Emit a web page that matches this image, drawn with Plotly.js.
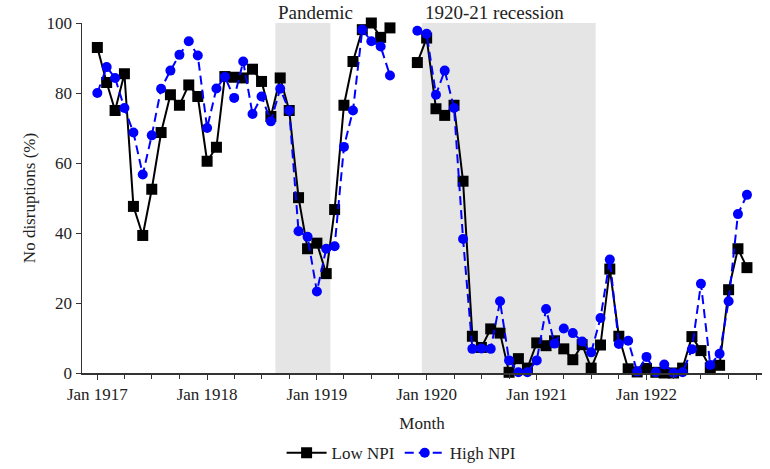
<!DOCTYPE html>
<html>
<head>
<meta charset="utf-8">
<script src="https://cdn.plot.ly/plotly-3.0.1.min.js"></script>
<style>
  html, body { margin: 0; padding: 0; background: #fff; }
  #chart { width: 770px; height: 469px; }
</style>
</head>
<body>
<div id="chart"></div>
<script>
// Monthly observations Jan 1917 .. Dec 1922
const years = [1917, 1918, 1919, 1920, 1921, 1922];
const monthNums = ['01','02','03','04','05','06','07','08','09','10','11','12'];
const months = [];
years.forEach(y => monthNums.forEach(m => months.push(y + '-' + m + '-01')));

const lowNPI = [
  93.0, 83.0, 75.0, 85.5, 47.6, 39.3, 52.5, 68.7, 79.5, 76.5, 82.3, 79.0,
  60.5, 64.5, 84.7, 84.5, 84.3, 86.8, 83.3, 73.3, 84.3, 75.0, 50.1, 35.5,
  37.1, 28.4, 46.7, 76.5, 89.0, 98.1, 100.0, 95.9, 98.6, null, null, 88.7,
  95.7, 75.5, 73.6, 76.5, 54.8, 10.5, 7.3, 12.6, 11.4, 0.2, 4.1, 1.4,
  8.6, 7.8, 9.2, 6.9, 3.8, 8.1, 1.4, 8.0, 29.7, 10.5, 1.2, 0.3,
  1.3, 0.2, 0.0, 0.0, 1.4, 10.4, 6.4, 1.5, 2.2, 23.8, 35.5, 30.1
];
const highNPI = [
  80.0, 87.4, 84.3, 75.7, 68.7, 56.7, 67.9, 81.2, 86.4, 90.9, 94.8, 90.7,
  70.0, 81.3, 84.6, 78.6, 89.0, 74.0, 79.0, 71.9, 81.2, 75.0, 40.5, 38.9,
  23.3, 35.5, 36.2, 64.6, 75.0, 98.1, 94.8, 93.3, 85.0, null, null, 97.8,
  96.9, 79.5, 86.4, 75.7, 38.3, 6.9, 7.0, 6.9, 20.5, 3.6, 0.2, 0.2,
  3.6, 18.3, 8.4, 12.7, 11.4, 9.0, 5.9, 15.7, 32.4, 8.3, 9.2, 0.4,
  4.6, 0.2, 2.4, 0.0, 0.2, 6.8, 25.5, 2.3, 5.5, 20.5, 45.4, 50.9
];
const seriesNames = ['Low NPI', 'High NPI'];

// Shaded periods
const periodLabels = ['Pandemic', '1920-21 recession'];
const periodStart = ['1918-08-16', '1919-12-16'];
const periodEnd = ['1919-02-15', '1921-07-16'];

const FONT = 'Liberation Serif, Times New Roman, serif';

const traces = [
  {
    x: months, y: lowNPI, name: seriesNames[0], type: 'scatter', mode: 'lines+markers',
    line: {color: '#000000', width: 2},
    marker: {symbol: 'square', size: 11, color: '#000000'},
    connectgaps: false, cliponaxis: false
  },
  {
    x: months, y: highNPI, name: seriesNames[1], type: 'scatter', mode: 'lines+markers',
    line: {color: '#0000ff', width: 2, dash: '9px,5px'},
    marker: {symbol: 'circle', size: 10, color: '#0000ff'},
    connectgaps: false, cliponaxis: false
  }
];

const shapes = periodStart.map((s, i) => ({
  type: 'rect', xref: 'x', yref: 'y', x0: s, x1: periodEnd[i], y0: 0, y1: 100,
  fillcolor: '#e5e5e5', line: {width: 0}, layer: 'below'
}));

const annotations = periodLabels.map((t, i) => ({
  text: t, xref: 'x', yref: 'paper', x: periodStart[i], y: 1.0,
  xanchor: 'left', yanchor: 'bottom', showarrow: false, xshift: 1, yshift: -2,
  font: {family: FONT, size: 19, color: '#222'}
}));

const layout = {
  width: 770, height: 469,
  margin: {l: 82, r: 8, t: 23, b: 96, autoexpand: false},
  paper_bgcolor: '#ffffff', plot_bgcolor: '#ffffff',
  font: {family: FONT, size: 17, color: '#222'},
  showlegend: true,
  legend: {
    orientation: 'h', x: 0.47, xanchor: 'center', y: -0.229, yanchor: 'middle',
    font: {family: FONT, size: 17, color: '#222'}, itemwidth: 40
  },
  xaxis: {
    type: 'date',
    range: ['1916-11-11', '1923-01-20'],
    tick0: '1917-01-01', dtick: 'M12', tickformat: '%b %Y',
    ticks: 'outside', ticklen: 5, tickcolor: '#333', tickwidth: 1,
    minor: {dtick: 'M3', tick0: '1917-01-01', ticks: 'outside', ticklen: 4, tickcolor: '#333', showgrid: false},
    showline: true, linecolor: '#333', linewidth: 1.5,
    showgrid: false, zeroline: false,
    tickfont: {family: FONT, size: 17, color: '#222'},
    title: {text: 'Month', font: {family: FONT, size: 17, color: '#222'}, standoff: 14}
  },
  yaxis: {
    range: [0, 100], tickvals: [0, 20, 40, 60, 80, 100],
    ticks: 'outside', ticklen: 5, tickcolor: '#333',
    showline: true, linecolor: '#333', linewidth: 1.5,
    showgrid: false, zeroline: false,
    tickfont: {family: FONT, size: 17, color: '#222'},
    title: {text: 'No disruptions (%)', font: {family: FONT, size: 17, color: '#222'}, standoff: 6}
  },
  shapes: shapes,
  annotations: annotations
};

Plotly.newPlot('chart', traces, layout, {displayModeBar: false, staticPlot: true});
</script>
</body>
</html>
